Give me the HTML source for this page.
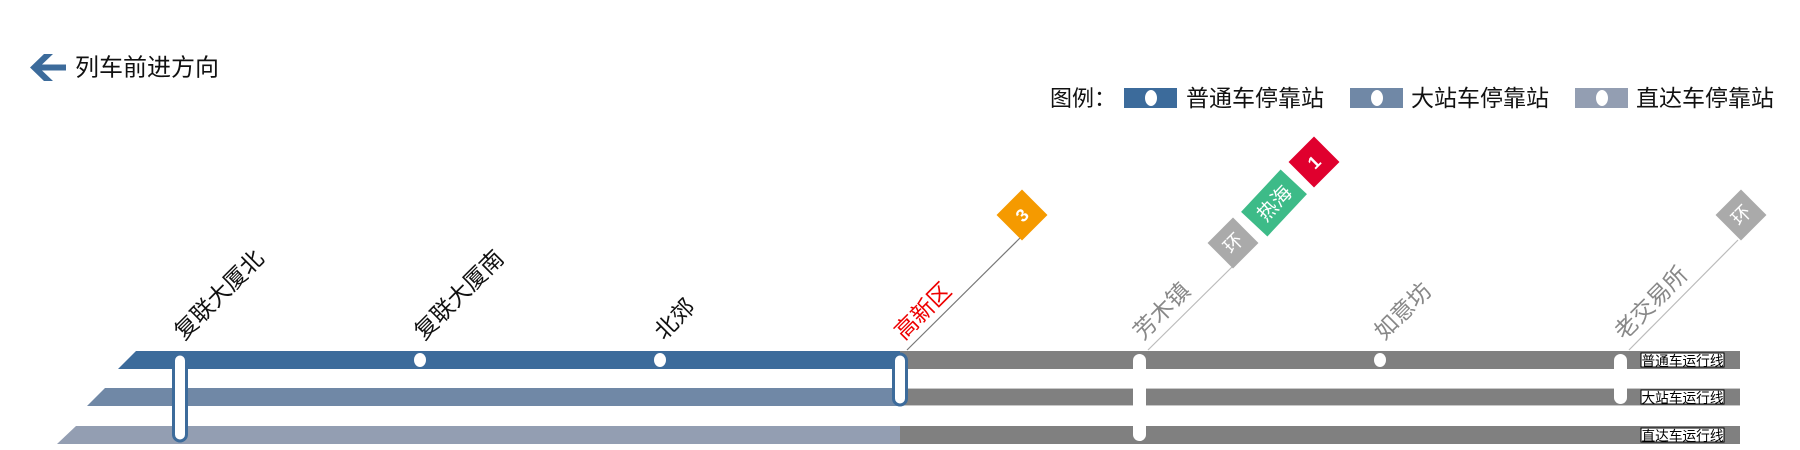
<!DOCTYPE html>
<html><head><meta charset="utf-8"><style>
html,body{margin:0;padding:0;background:#fff;}
svg{display:block;font-family:"Liberation Sans","Noto Sans CJK SC",sans-serif;}
</style></head><body>
<svg width="1800" height="450" viewBox="0 0 1800 450" xmlns="http://www.w3.org/2000/svg">
<!-- direction -->
<path d="M30 67.5 L44 54 L53 54 L42 64.5 L66 64.5 L66 70.5 L42 70.5 L53 81 L44 81 Z" fill="#3c6b9b"/>
<text x="75" y="75.5" font-size="24" fill="#111">列车前进方向</text>
<!-- legend -->
<text x="1050" y="106" font-size="22" fill="#111">图例：</text>
<rect x="1124" y="88" width="53" height="20" fill="#3c6b9b"/><ellipse cx="1151" cy="98" rx="6" ry="8" fill="#fff"/>
<text x="1186" y="106" font-size="23" fill="#111">普通车停靠站</text>
<rect x="1350" y="88" width="53" height="20" fill="#7088a6"/><ellipse cx="1377" cy="98" rx="6" ry="8" fill="#fff"/>
<text x="1411" y="106" font-size="23" fill="#111">大站车停靠站</text>
<rect x="1575" y="88" width="53" height="20" fill="#939eb2"/><ellipse cx="1602" cy="98" rx="6" ry="8" fill="#fff"/>
<text x="1636" y="106" font-size="23" fill="#111">直达车停靠站</text>
<!-- lines -->
<polygon points="136,351 901,351 901,369 118,369" fill="#3c6b9b"/>
<rect x="900" y="351" width="840" height="18" fill="#808080"/>
<polygon points="105,388 901,388 901,406 87,406" fill="#7088a6"/>
<rect x="900" y="388" width="840" height="18" fill="#808080"/>
<line x1="900" y1="388.5" x2="1740" y2="388.5" stroke="#c8c8c8" stroke-width="1"/>
<line x1="900" y1="405.5" x2="1740" y2="405.5" stroke="#c8c8c8" stroke-width="1"/>
<polygon points="76,426 901,426 901,444 57,444" fill="#939eb2"/>
<rect x="900" y="426" width="840" height="18" fill="#808080"/>
<!-- line labels -->
<g font-size="14" fill="#000">
<rect x="1641" y="353" width="83" height="14" fill="#fff" stroke="#000" stroke-width="1"/>
<text x="1641.5" y="366" textLength="82" lengthAdjust="spacingAndGlyphs">普通车运行线</text>
<rect x="1641" y="390" width="83" height="14" fill="#fff" stroke="#000" stroke-width="1"/>
<text x="1641.5" y="403" textLength="82" lengthAdjust="spacingAndGlyphs">大站车运行线</text>
<rect x="1641" y="428" width="83" height="14" fill="#fff" stroke="#000" stroke-width="1"/>
<text x="1641.5" y="441" textLength="82" lengthAdjust="spacingAndGlyphs">直达车运行线</text>
</g>
<!-- stations -->
<rect x="173.5" y="354" width="13" height="87" rx="6.5" fill="#fff" stroke="#3c6b9b" stroke-width="3"/>
<ellipse cx="420" cy="360" rx="6" ry="7" fill="#fff"/>
<ellipse cx="660" cy="360" rx="6" ry="7" fill="#fff"/>
<rect x="893.5" y="354" width="13" height="51" rx="6.5" fill="#fff" stroke="#3c6b9b" stroke-width="3"/>
<rect x="1133" y="354" width="13" height="87" rx="6.5" fill="#fff"/>
<ellipse cx="1380" cy="360" rx="6" ry="7" fill="#fff"/>
<rect x="1614" y="354" width="13" height="50" rx="6.5" fill="#fff"/>
<!-- leaders -->
<line x1="907" y1="350" x2="1020" y2="238" stroke="#777" stroke-width="1.2"/>
<line x1="1148" y1="350" x2="1233" y2="266" stroke="#bbb" stroke-width="1.2"/>
<line x1="1629" y1="350" x2="1738" y2="240" stroke="#bbb" stroke-width="1.2"/>
<!-- labels -->
<g font-size="23">
<text transform="translate(184,341) rotate(-45)" fill="#111">复联大厦北</text>
<text transform="translate(424,341) rotate(-45)" fill="#111">复联大厦南</text>
<text transform="translate(664,341) rotate(-45)" fill="#111">北郊</text>
<text transform="translate(904,341) rotate(-45)" fill="#e00">高新区</text>
<text transform="translate(1143,341) rotate(-45)" fill="#888">芳木镇</text>
<text transform="translate(1384,341) rotate(-45)" fill="#888">如意坊</text>
<text transform="translate(1624,341) rotate(-45)" fill="#888">老交易所</text>
</g>
<!-- badges -->
<g transform="translate(1022,215) rotate(-45)">
<rect x="-18" y="-18" width="36" height="36" fill="#f59a00"/>
<text x="0" y="6.5" font-size="18" font-weight="bold" fill="#fff" text-anchor="middle">3</text>
</g>
<g transform="translate(1233,243) rotate(-45)">
<rect x="-18" y="-18" width="36" height="36" fill="#aaa"/>
<text x="0" y="7" font-size="19" fill="#fff" text-anchor="middle">环</text>
</g>
<g transform="translate(1274,203) rotate(-47)">
<rect x="-29" y="-18" width="58" height="36" fill="#3dbb88"/>
<text x="0" y="7.5" font-size="20" fill="#fff" text-anchor="middle">热海</text>
</g>
<g transform="translate(1314,162) rotate(-45)">
<rect x="-18" y="-18" width="36" height="36" fill="#e0002e"/>
<text x="0" y="6.5" font-size="18" font-weight="bold" fill="#fff" text-anchor="middle">1</text>
</g>
<g transform="translate(1741,215) rotate(-45)">
<rect x="-18" y="-18" width="36" height="36" fill="#aaa"/>
<text x="0" y="7" font-size="19" fill="#fff" text-anchor="middle">环</text>
</g>
</svg>
</body></html>
